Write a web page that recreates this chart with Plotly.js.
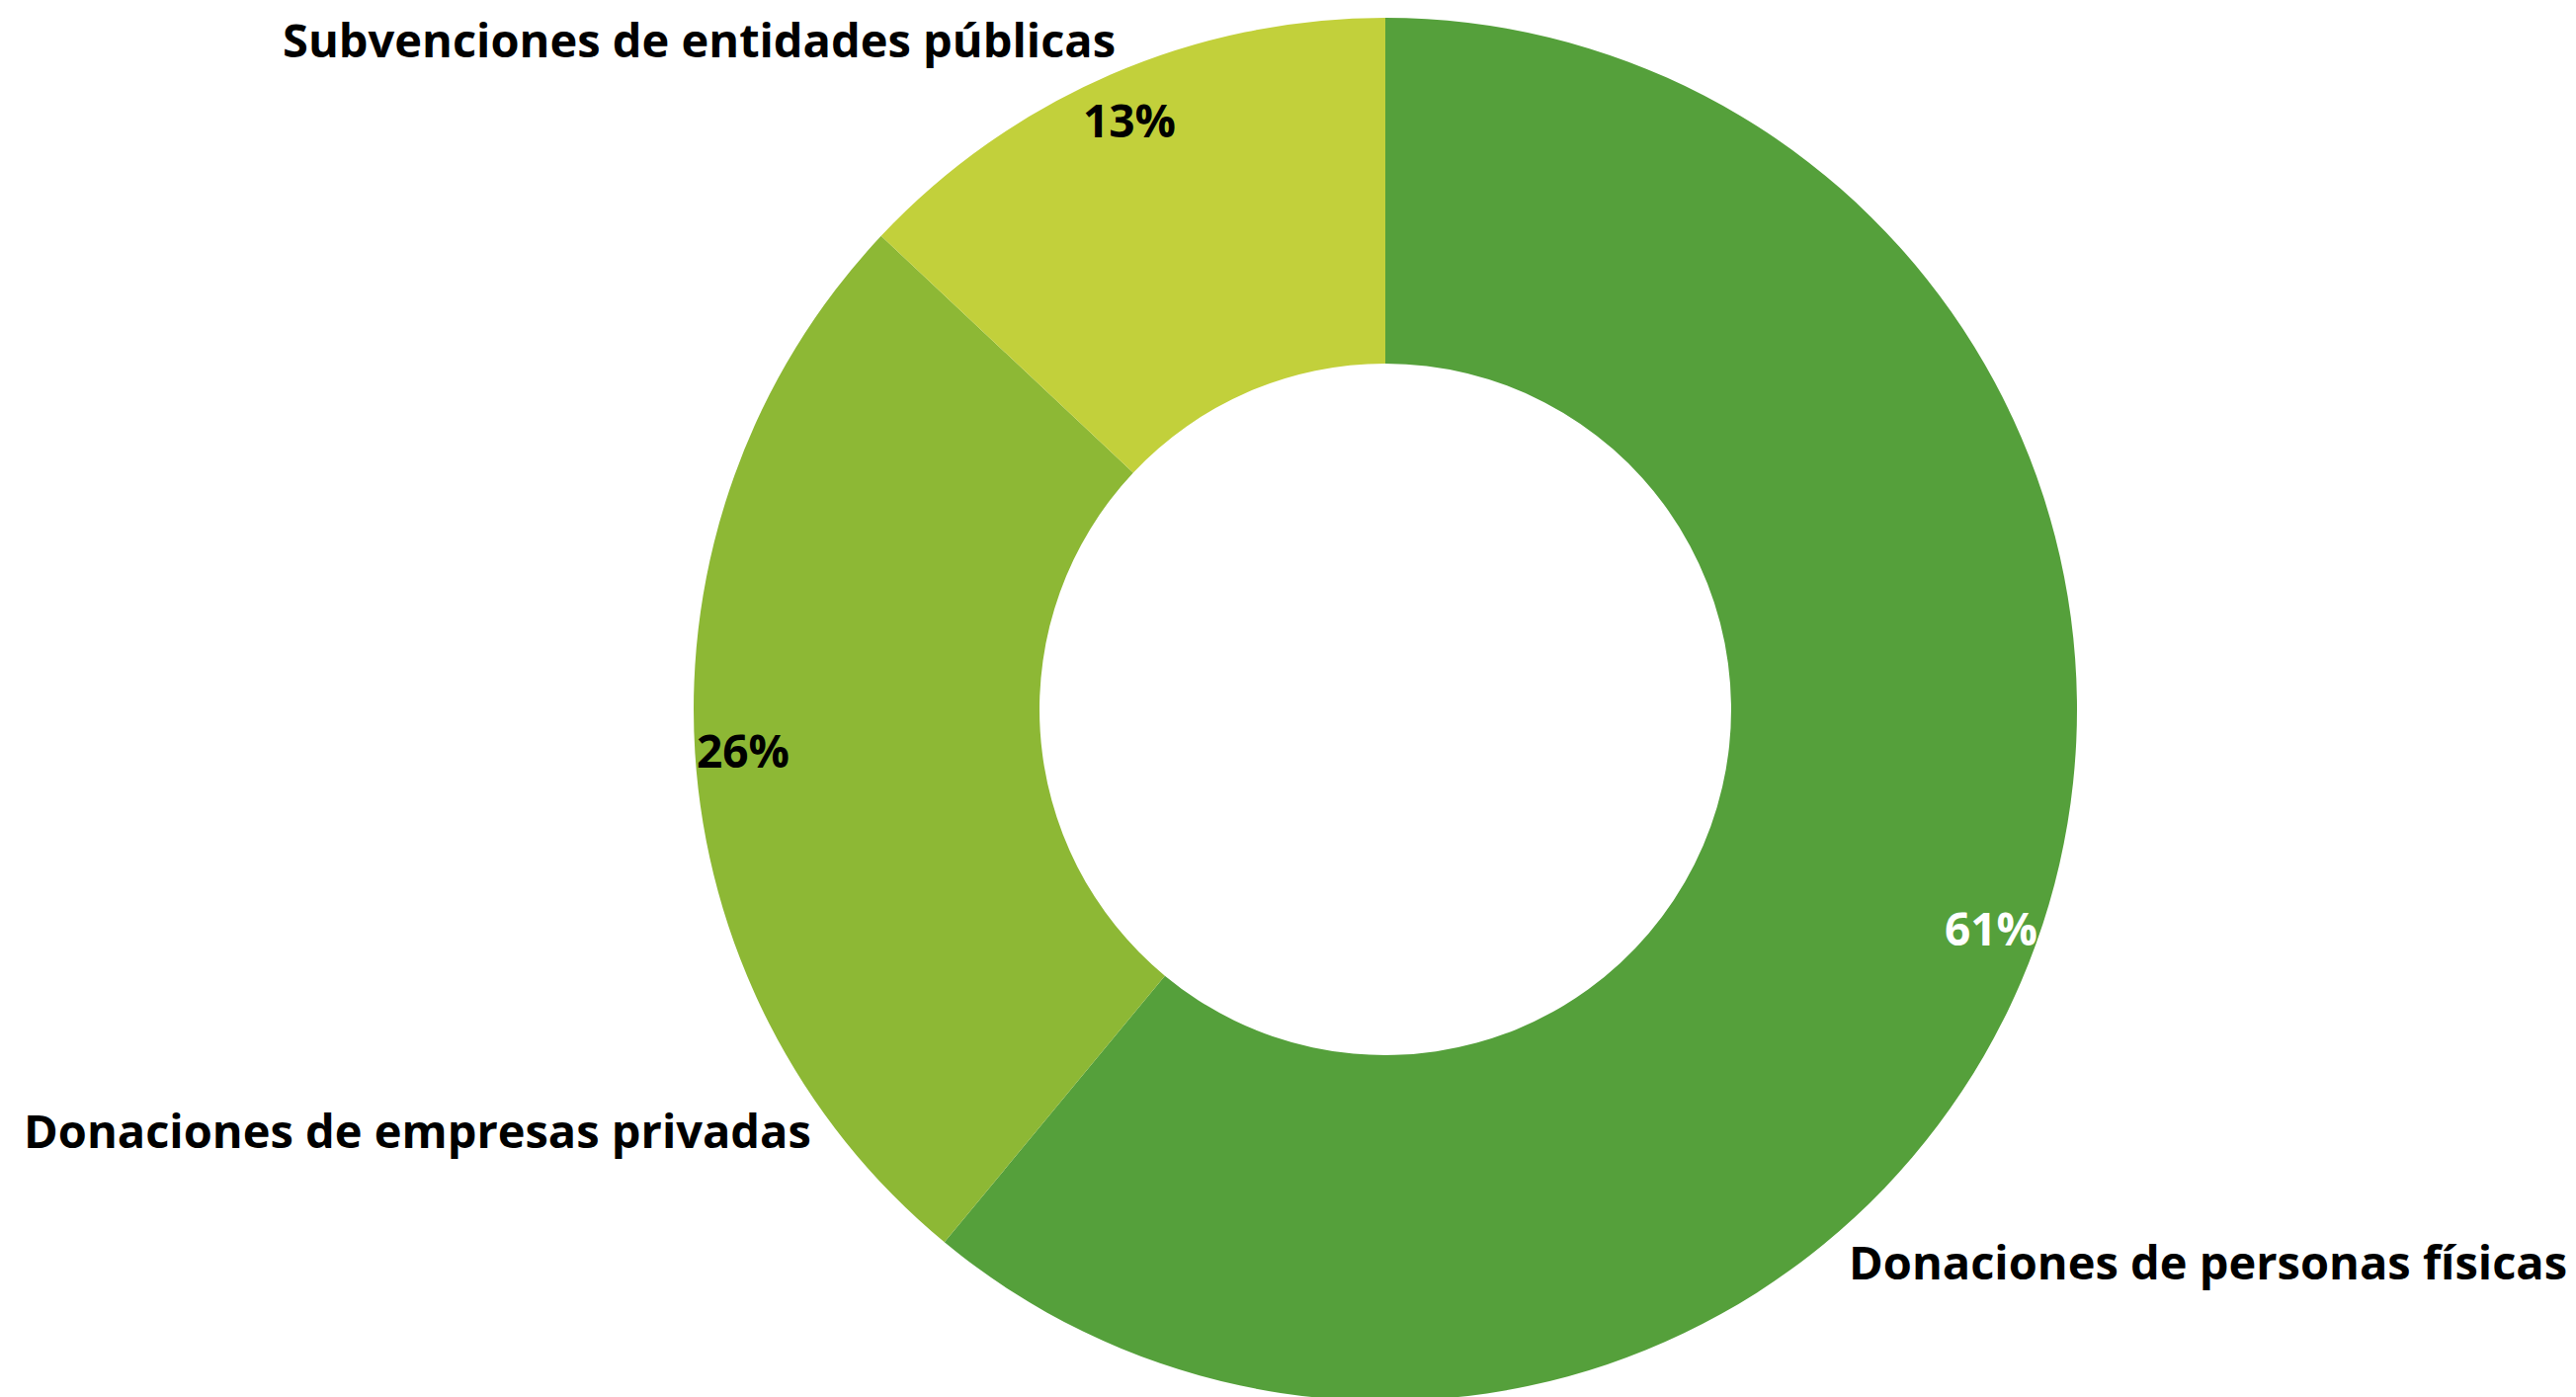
<!DOCTYPE html>
<html>
<head>
<meta charset="utf-8">
<script src="https://cdn.plot.ly/plotly-3.0.1.min.js"></script>
<style>
html, body { margin: 0; padding: 0; overflow: hidden; background: #ffffff; }
#chart { width: 2607px; height: 1418px; }
</style>
</head>
<body>
<div id="chart"></div>
<script>
// ---- data ----
const categories = ["Donaciones de personas físicas", "Donaciones de empresas privadas", "Subvenciones de entidades públicas"];
const values = [61, 26, 13];
const sliceColors = ["#55A03B", "#8DB835", "#C2D03B"];
const pctColors = ["#ffffff", "#000000", "#000000"];

// ---- layout geometry ----
const W = 2607, H = 1418;
const M = {l: 0, r: 0, t: 18, b: 0};
const plotH = H - M.t - M.b;
const cxPx = 1402, R = plotH / 2;
const domX = [(cxPx - R) / W, (cxPx + R) / W];
const FONT = "Open Sans, DejaVu Sans, sans-serif";

// percent labels placed along each slice's mid-angle, near the outer edge
const total = values.reduce((a, b) => a + b, 0);
let cum = 0;
const pctAnnotations = values.map((v, i) => {
  const mid = (cum + v / 2) / total * 2 * Math.PI; // clockwise from top
  cum += v;
  const r = 0.93 * R;
  return {
    x: (cxPx + r * Math.sin(mid)) / W,
    y: 0.5 + r * Math.cos(mid) / plotH,
    xref: "paper", yref: "paper",
    text: Math.round(v / total * 100) + "%",
    showarrow: false,
    xanchor: "center", yanchor: "middle",
    font: {family: FONT, size: 46, weight: 700, color: pctColors[i]}
  };
});

// category labels
const labelPos = [
  {x: 1869 / W, y: 1 - (1277 - M.t) / plotH, xanchor: "left"},
  {x: 22 / W, y: 1 - (1144 - M.t) / plotH, xanchor: "left"},
  {x: 1131 / W, y: 1 - (40 - M.t) / plotH, xanchor: "right"}
];
const catAnnotations = categories.map((c, i) => ({
  x: labelPos[i].x, y: labelPos[i].y,
  xref: "paper", yref: "paper",
  text: c, showarrow: false,
  xanchor: labelPos[i].xanchor, yanchor: "middle",
  font: {family: FONT, size: 47, weight: 700, color: "#000000"}
}));

const trace = {
  type: "pie",
  labels: categories,
  values: values,
  hole: 0.5,
  sort: false,
  direction: "clockwise",
  rotation: 0,
  textinfo: "none",
  hoverinfo: "none",
  marker: {colors: sliceColors, line: {width: 0}},
  domain: {x: domX, y: [0, 1]},
  showlegend: false
};

const layout = {
  width: W, height: H,
  margin: M,
  paper_bgcolor: "#ffffff",
  plot_bgcolor: "#ffffff",
  showlegend: false,
  annotations: pctAnnotations.concat(catAnnotations)
};

Plotly.newPlot("chart", [trace], layout, {staticPlot: true, displayModeBar: false});
</script>
</body>
</html>
